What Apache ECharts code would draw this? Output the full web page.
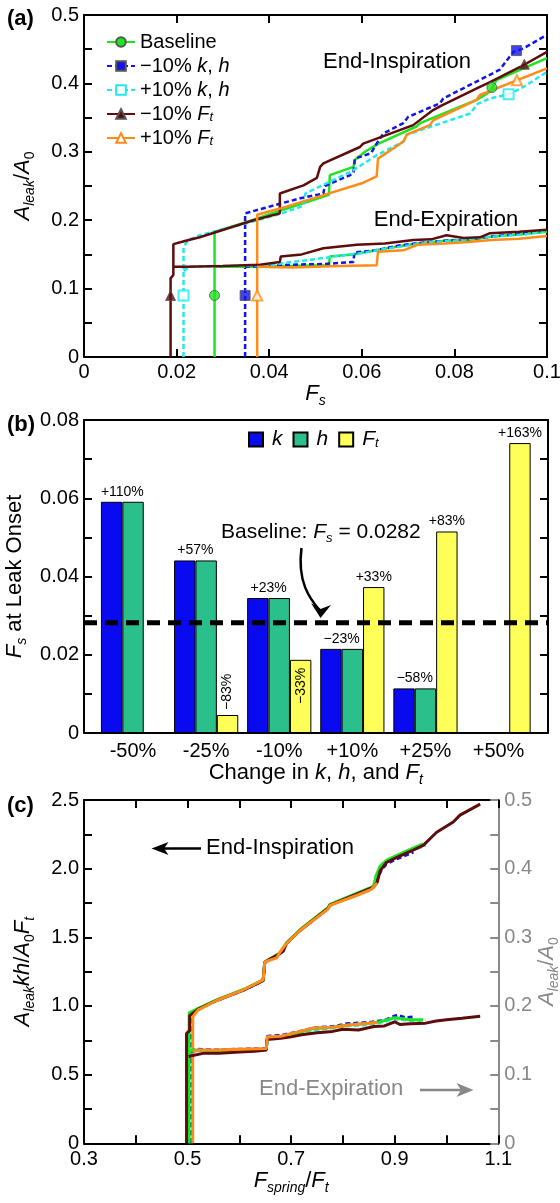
<!DOCTYPE html>
<html>
<head>
<meta charset="utf-8">
<script src="https://cdn.jsdelivr.net/npm/echarts@6/dist/echarts.min.js"></script>
<style>
  html, body { margin: 0; padding: 0; background: #fff; }
  #chart { width: 560px; height: 1203px; }
</style>
</head>
<body>
<div id="chart"></div>
<script>
const FONT = '"Liberation Sans", Arial, Helvetica, sans-serif'

// ---------- panel (a): A_leak/A0 vs Fs ----------
const aBaseInsp = [[0.0282,0],[0.0282,0.183],[0.035,0.197],[0.042,0.213],[0.048,0.226],[0.0529,0.237],[0.0531,0.266],[0.0582,0.278],[0.0585,0.288],[0.0607,0.300],[0.0636,0.312],[0.0718,0.337],[0.0726,0.342],[0.0848,0.376],[0.0877,0.388],[0.0891,0.405],[0.1,0.437]]
const aBaseExp = [[0.0282,0.132],[0.035,0.132],[0.045,0.133],[0.0529,0.134],[0.0531,0.147],[0.058,0.150],[0.063,0.156],[0.068,0.162],[0.072,0.166],[0.078,0.170],[0.083,0.171],[0.088,0.176],[0.094,0.179],[0.1,0.183]]
const aBaseMarks = [[0.0282,0.09],[0.0881,0.394]]

const aKm10Insp = [[0.0348,0],[0.0348,0.21],[0.0423,0.224],[0.0467,0.232],[0.0517,0.239],[0.052,0.25],[0.0575,0.266],[0.0582,0.27],[0.0585,0.29],[0.062,0.298],[0.0632,0.312],[0.0647,0.327],[0.069,0.342],[0.070,0.351],[0.0769,0.371],[0.0776,0.378],[0.0898,0.42],[0.0927,0.446],[0.0949,0.451],[0.1,0.471]]
const aKm10Exp = [[0.0348,0.132],[0.04,0.133],[0.045,0.135],[0.052,0.136],[0.0582,0.139],[0.0584,0.153],[0.063,0.156],[0.068,0.163],[0.073,0.167],[0.078,0.170],[0.083,0.172],[0.088,0.176],[0.094,0.180],[0.1,0.185]]
const aKm10Marks = [[0.0348,0.09],[0.0934,0.448]]

const aKp10Insp = [[0.0215,0],[0.0215,0.161],[0.0225,0.171],[0.025,0.178],[0.0337,0.193],[0.0423,0.209],[0.0474,0.221],[0.0478,0.239],[0.053,0.256],[0.0582,0.273],[0.0632,0.295],[0.069,0.315],[0.0697,0.325],[0.0834,0.356],[0.085,0.37],[0.0877,0.378],[0.0917,0.384],[0.095,0.395],[0.1,0.417]]
const aKp10Exp = [[0.0215,0.126],[0.023,0.132],[0.03,0.133],[0.04,0.134],[0.045,0.139],[0.05,0.143],[0.055,0.148],[0.06,0.152],[0.065,0.158],[0.07,0.163],[0.075,0.168],[0.08,0.170],[0.085,0.174],[0.09,0.177],[0.095,0.179],[0.1,0.184]]
const aKp10Marks = [[0.0215,0.09],[0.0917,0.384]]

const aFm10Insp = [[0.0187,0],[0.0187,0.115],[0.0193,0.12],[0.0193,0.165],[0.022,0.170],[0.025,0.175],[0.0366,0.2],[0.0423,0.21],[0.0423,0.239],[0.0474,0.251],[0.0503,0.262],[0.051,0.278],[0.0517,0.283],[0.0596,0.307],[0.0603,0.312],[0.0711,0.339],[0.0754,0.361],[0.0773,0.368],[0.0855,0.395],[0.0877,0.402],[0.0942,0.424],[0.1,0.446]]
const aFm10Exp = [[0.0193,0.132],[0.022,0.132],[0.03,0.133],[0.038,0.135],[0.0423,0.139],[0.0425,0.147],[0.047,0.150],[0.0517,0.159],[0.0589,0.164],[0.065,0.166],[0.0711,0.171],[0.075,0.172],[0.0783,0.178],[0.082,0.174],[0.0855,0.175],[0.0877,0.181],[0.094,0.183],[0.1,0.186]]
const aFm10Marks = [[0.0187,0.09],[0.0951,0.428]]

const aFp10Insp = [[0.0374,0],[0.0374,0.208],[0.0423,0.217],[0.05,0.233],[0.06,0.254],[0.0632,0.264],[0.0635,0.29],[0.069,0.315],[0.0697,0.325],[0.0747,0.339],[0.0754,0.346],[0.0848,0.376],[0.0855,0.383],[0.1,0.422]]
const aFp10Exp = [[0.0374,0.132],[0.045,0.131],[0.055,0.133],[0.0632,0.134],[0.0635,0.154],[0.069,0.156],[0.072,0.164],[0.078,0.166],[0.083,0.168],[0.088,0.171],[0.094,0.173],[0.1,0.177]]
const aFp10Marks = [[0.0374,0.09],[0.0935,0.4045]]

// ---------- panel (b): Fs at leak onset ----------
const changeCats = ['-50%', '-25%', '-10%', '+10%', '+25%', '+50%']
const kVals  = [0.0591, 0.0441, 0.0345, 0.0215, 0.0114, null]
const hVals  = [0.0591, 0.0441, 0.0345, 0.0215, 0.0114, null]
const ftVals = [null, 0.0046, 0.0187, 0.0373, 0.0515, 0.0741]
const khPct  = ['+110%', '+57%', '+23%', '\u221223%', '\u221258%', '']
const ftPct  = ['', '\u221283%', '\u221233%', '+33%', '+83%', '+163%']
const baselineFs = 0.0282

// ---------- panel (c): normalised ----------
// end-inspiration, left axis (A_leak kh / A0 Ft)
const cBaseInsp = [[0.503,0],[0.503,0.95],[0.52,0.98],[0.556,1.045],[0.608,1.12],[0.646,1.19],[0.649,1.32],[0.678,1.385],[0.691,1.46],[0.717,1.555],[0.771,1.715],[0.775,1.74],[0.859,1.87],[0.864,1.95],[0.872,2.02],[0.884,2.06],[0.9,2.09],[0.93,2.14],[0.955,2.18]]
const cKm10Insp = [[0.506,0],[0.506,0.93],[0.52,0.978],[0.556,1.04],[0.608,1.115],[0.646,1.185],[0.649,1.315],[0.678,1.38],[0.691,1.455],[0.717,1.55],[0.771,1.71],[0.775,1.735],[0.859,1.865],[0.866,1.92],[0.874,1.99],[0.884,2.035],[0.9,2.065],[0.936,2.12]]
const cKp10Insp = [[0.505,0],[0.505,0.93],[0.52,0.98],[0.556,1.042],[0.608,1.118],[0.646,1.188],[0.649,1.318],[0.678,1.383],[0.691,1.458],[0.717,1.552],[0.771,1.712],[0.775,1.738],[0.859,1.868],[0.866,1.93],[0.873,2.0],[0.884,2.05],[0.9,2.08],[0.93,2.13],[0.96,2.17]]
const cFm10Insp = [[0.498,0],[0.498,0.8],[0.504,0.82],[0.504,0.93],[0.52,0.975],[0.556,1.04],[0.608,1.115],[0.646,1.185],[0.649,1.32],[0.678,1.38],[0.685,1.40],[0.691,1.455],[0.717,1.55],[0.771,1.71],[0.775,1.735],[0.859,1.865],[0.866,1.9],[0.872,1.985],[0.884,2.045],[0.9,2.075],[0.93,2.125],[0.955,2.17],[0.981,2.265],[1.013,2.34],[1.026,2.39],[1.065,2.47]]
const cFp10Insp = [[0.51,0],[0.51,0.92],[0.52,0.97],[0.556,1.04],[0.608,1.118],[0.646,1.19],[0.649,1.32],[0.672,1.35],[0.678,1.39],[0.69,1.45],[0.717,1.55],[0.771,1.705],[0.775,1.732],[0.83,1.81],[0.855,1.85],[0.866,1.895]]
// end-expiration, right axis (A_leak / A0)
const cBaseExp = [[0.503,0.133],[0.51,0.136],[0.55,0.135],[0.6,0.136],[0.652,0.137],[0.654,0.155],[0.68,0.155],[0.717,0.162],[0.743,0.167],[0.78,0.169],[0.807,0.172],[0.85,0.175],[0.872,0.177],[0.9,0.183],[0.93,0.18],[0.955,0.18]]
const cKm10Exp = [[0.506,0.133],[0.515,0.137],[0.55,0.136],[0.6,0.137],[0.652,0.138],[0.654,0.156],[0.68,0.157],[0.717,0.163],[0.743,0.168],[0.78,0.170],[0.807,0.174],[0.85,0.176],[0.88,0.179],[0.905,0.187],[0.92,0.183],[0.936,0.184]]
const cKp10Exp = [[0.505,0.132],[0.515,0.135],[0.55,0.134],[0.6,0.135],[0.652,0.136],[0.654,0.153],[0.68,0.154],[0.717,0.161],[0.743,0.165],[0.78,0.168],[0.807,0.171],[0.85,0.173],[0.872,0.176],[0.9,0.181],[0.93,0.179],[0.96,0.178]]
const cFm10Exp = [[0.502,0.126],[0.51,0.128],[0.53,0.131],[0.56,0.131],[0.6,0.133],[0.63,0.134],[0.652,0.136],[0.653,0.151],[0.68,0.153],[0.7,0.155],[0.72,0.158],[0.75,0.161],[0.78,0.163],[0.8,0.166],[0.83,0.165],[0.86,0.17],[0.88,0.171],[0.9,0.177],[0.91,0.173],[0.93,0.174],[0.96,0.175],[0.98,0.178],[1.0,0.18],[1.03,0.182],[1.065,0.185]]
const cFp10Exp = [[0.51,0.133],[0.52,0.136],[0.55,0.136],[0.6,0.137],[0.652,0.138],[0.654,0.155],[0.68,0.156],[0.717,0.163],[0.743,0.168],[0.78,0.169],[0.807,0.172],[0.84,0.174],[0.866,0.176]]

const variants = [
  { name: 'base', label: '{n|Baseline}', color: '#1ee61e', dash: 'solid', symbol: 'circle', filled: true,
    insp: aBaseInsp, exp: aBaseExp, marks: aBaseMarks, cInsp: cBaseInsp, cExp: cBaseExp },
  { name: 'km10', label: '{n|\u221210% }{i|k}{n|, }{i|h}', color: '#1414e6', dash: [5, 3], symbol: 'rect', filled: true,
    insp: aKm10Insp, exp: aKm10Exp, marks: aKm10Marks, cInsp: cKm10Insp, cExp: cKm10Exp },
  { name: 'kp10', label: '{n|+10% }{i|k}{n|, }{i|h}', color: '#1ee8f0', dash: [5, 3], symbol: 'emptyRect', filled: false,
    insp: aKp10Insp, exp: aKp10Exp, marks: aKp10Marks, cInsp: cKp10Insp, cExp: cKp10Exp },
  { name: 'fm10', label: '{n|\u221210% }{i|F}{s|t}', color: '#5e0c0c', dash: 'solid', symbol: 'triangle', filled: true,
    insp: aFm10Insp, exp: aFm10Exp, marks: aFm10Marks, cInsp: cFm10Insp, cExp: cFm10Exp },
  { name: 'fp10', label: '{n|+10% }{i|F}{s|t}', color: '#ff8c1a', dash: 'solid', symbol: 'emptyTriangle', filled: false,
    insp: aFp10Insp, exp: aFp10Exp, marks: aFp10Marks, cInsp: cFp10Insp, cExp: cFp10Exp }
]

function richSet(size, sub, lh, color) {
  return {
    n: { fontSize: size, fontFamily: FONT, lineHeight: lh, color },
    i: { fontSize: size, fontFamily: FONT, fontStyle: 'italic', lineHeight: lh, color },
    s: { fontSize: sub, fontFamily: FONT, fontStyle: 'italic', lineHeight: Math.round(sub * 0.6), verticalAlign: 'bottom', color },
    u: { fontSize: sub, fontFamily: FONT, lineHeight: Math.round(sub * 0.6), verticalAlign: 'bottom', color }
  }
}
const nameRich = richSet(22, 14, 28, '#000')
const grayRich = richSet(22, 14, 28, '#888')

const tick = { show: true, inside: true, length: 8, lineStyle: { color: '#000', width: 2 } }
const line = { show: true, onZero: false, lineStyle: { color: '#000', width: 2 } }
const lab = { fontSize: 20, fontFamily: FONT, color: '#000' }

function mirrorX(grid, min, max, interval, pos) {
  return { gridIndex: grid, type: 'value', position: pos, min, max, interval,
    axisLine: line, axisTick: interval ? tick : { show: false }, axisLabel: { show: false }, splitLine: { show: false } }
}
function mirrorY(grid, min, max, interval) {
  return { gridIndex: grid, type: 'value', position: 'right', min, max, interval,
    axisLine: line, axisTick: tick, axisLabel: { show: false }, splitLine: { show: false } }
}

const series = []
// panel (a)
variants.forEach(v => {
  series.push({
    type: 'line', name: v.name, xAxisIndex: 0, yAxisIndex: 0, data: v.insp,
    symbol: v.symbol, showSymbol: false, symbolSize: 10, z: 3,
    lineStyle: { color: v.color, width: 2.5, type: v.dash },
    itemStyle: v.filled ? { color: v.color, borderColor: '#555', borderWidth: 1 } : { color: v.color }
  })
})
variants.forEach(v => {
  series.push({
    type: 'line', name: v.name + '-exp', xAxisIndex: 0, yAxisIndex: 0, data: v.exp,
    showSymbol: false, z: 3, lineStyle: { color: v.color, width: 2.5, type: v.dash }
  })
  series.push({
    type: 'scatter', name: v.name + '-marks', xAxisIndex: 0, yAxisIndex: 0, data: v.marks,
    symbol: v.symbol, symbolSize: 10, z: 5,
    itemStyle: v.filled ? { color: v.color, borderColor: '#555', borderWidth: 1 }
                        : { color: v.color, borderWidth: 2 }
  })
})

// panel (b)
series.push({
  type: 'bar', name: 'k', xAxisIndex: 4, yAxisIndex: 4, barWidth: 21.4, barGap: '0%',
  itemStyle: { color: '#0a0af0', borderColor: '#000', borderWidth: 1 },
  label: { show: true, position: 'top', distance: 3, offset: [10.7, 0], fontSize: 14, fontFamily: FONT, color: '#000',
    formatter: p => khPct[p.dataIndex] },
  data: kVals
})
series.push({
  type: 'bar', name: 'h', xAxisIndex: 4, yAxisIndex: 4, barWidth: 21.4, barGap: '0%',
  itemStyle: { color: '#2bbf8b', borderColor: '#000', borderWidth: 1 },
  data: hVals
})
series.push({
  type: 'bar', name: 'Ft', xAxisIndex: 4, yAxisIndex: 4, barWidth: 21.4, barGap: '0%',
  itemStyle: { color: '#ffff5a', borderColor: '#000', borderWidth: 1 },
  label: { show: true, position: 'top', distance: 3, fontSize: 14, fontFamily: FONT, color: '#000',
    formatter: p => ftPct[p.dataIndex] },
  data: ftVals.map((v, i) => {
    if (v == null) return v
    if (i === 1) return { value: v, label: { rotate: 90, align: 'left', verticalAlign: 'middle', distance: 5 } }
    if (i === 2) return { value: v, label: { position: 'insideTop', rotate: 90, align: 'right', verticalAlign: 'middle', distance: 8 } }
    return v
  })
})
// baseline Fs, across the whole frame of panel (b)
series.push({
  type: 'line', name: 'baseline', xAxisIndex: 2, yAxisIndex: 2, z: 4,
  data: [[0, baselineFs], [1, baselineFs]], showSymbol: false, silent: true,
  lineStyle: { color: '#000', width: 5, type: [13, 8] }
})

// panel (c)
const cOrder = [2, 1, 0, 3, 4]
cOrder.forEach(k => {
  const v = variants[k]
  series.push({ type: 'line', name: v.name + '-c-insp', xAxisIndex: 5, yAxisIndex: 5, data: v.cInsp,
    showSymbol: false, lineStyle: { color: v.color, width: 3, type: v.dash } })
})
cOrder.forEach(k => {
  const v = variants[k]
  series.push({ type: 'line', name: v.name + '-c-exp', xAxisIndex: 5, yAxisIndex: 6, data: v.cExp,
    showSymbol: false, lineStyle: { color: v.color, width: 3, type: v.dash } })
})

const legendRich = richSet(20, 13, 20, '#000')
const legendLabels = {}
variants.forEach(v => { legendLabels[v.name] = v.label })
const barLegendLabels = { k: '{i|k}', h: '{i|h}', Ft: '{i|F}{s|t}' }
const barLegendRich = richSet(21, 13, 20, '#000')
barLegendRich.i.padding = [0, 0, 0, 4]

const option = {
  animation: false,
  backgroundColor: '#fff',
  textStyle: { fontFamily: FONT },
  grid: [
    { left: 84, top: 15, width: 463, height: 342, outerBoundsMode: 'none' },
    { left: 84, top: 420, width: 464, height: 313, outerBoundsMode: 'none' },
    { left: 96.5, top: 420, width: 438.6, height: 313, outerBoundsMode: 'none' },
    { left: 84, top: 800, width: 414.3, height: 343.3, outerBoundsMode: 'none' }
  ],
  legend: [
    {
      data: variants.map(v => v.name), orient: 'vertical', left: 106, top: 32, padding: 0,
      itemWidth: 28, itemHeight: 12, itemGap: 4,
      formatter: n => legendLabels[n], textStyle: { fontSize: 20, rich: legendRich }
    },
    {
      data: ['k', 'h', 'Ft'], orient: 'horizontal', left: 248, top: 429, padding: 0,
      itemWidth: 14, itemHeight: 14, itemGap: 10, icon: 'rect',
      formatter: n => barLegendLabels[n], textStyle: { fontSize: 21, rich: barLegendRich }
    }
  ],
  xAxis: [
    { gridIndex: 0, type: 'value', min: 0, max: 0.1, interval: 0.02,
      axisLine: line, axisTick: tick, splitLine: { show: false },
      axisLabel: { ...lab, margin: 5, formatter: v => v === 0 ? '0' : String(Math.round(v * 100) / 100) },
      name: '{i|F}{s|s}', nameLocation: 'middle', nameGap: 17, nameTextStyle: { rich: nameRich } },
    mirrorX(0, 0, 0.1, 0.02, 'top'),
    mirrorX(1, 0, 1, null, 'bottom'),
    mirrorX(1, 0, 1, null, 'top'),
    { gridIndex: 2, type: 'category', data: changeCats,
      axisLine: { show: false }, axisTick: { show: false }, splitLine: { show: false },
      axisLabel: { ...lab, margin: 8 },
      name: '{n|Change in }{i|k}{n|, }{i|h}{n|, and }{i|F}{s|t}', nameLocation: 'middle', nameGap: 20,
      nameTextStyle: { rich: nameRich } },
    { gridIndex: 3, type: 'value', min: 0.3, max: 1.1, interval: 0.1,
      axisLine: line, axisTick: tick, splitLine: { show: false },
      axisLabel: { ...lab, margin: 6, formatter: v => Math.round(v * 10) % 2 === 1 ? v.toFixed(1) : '' },
      name: '{i|F}{s|spring}{n|/}{i|F}{s|t}', nameLocation: 'middle', nameGap: 24, nameTextStyle: { rich: nameRich } },
    mirrorX(3, 0.3, 1.1, 0.1, 'top')
  ],
  yAxis: [
    { gridIndex: 0, type: 'value', min: 0, max: 0.5, interval: 0.05,
      axisLine: line, axisTick: tick, splitLine: { show: false },
      axisLabel: { ...lab, margin: 5, formatter: v => { const r = Math.round(v * 100); return r % 10 ? '' : (r ? v.toFixed(1) : '0') } },
      name: '{i|A}{s|leak}{n|/}{i|A}{u|0}', nameLocation: 'middle', nameRotate: 90, nameGap: 47, nameTextStyle: { rich: nameRich } },
    mirrorY(0, 0, 0.5, 0.05),
    { gridIndex: 1, type: 'value', min: 0, max: 0.08, interval: 0.01,
      axisLine: line, axisTick: tick, splitLine: { show: false },
      axisLabel: { ...lab, margin: 5, formatter: v => { const r = Math.round(v * 1000); return r % 20 ? '' : (r ? v.toFixed(2) : '0') } },
      name: '{i|F}{s|s}{n| at Leak Onset}', nameLocation: 'middle', nameRotate: 90, nameGap: 47, nameTextStyle: { rich: nameRich } },
    mirrorY(1, 0, 0.08, 0.01),
    { gridIndex: 2, type: 'value', min: 0, max: 0.08, show: false },
    { gridIndex: 3, type: 'value', min: 0, max: 2.5, interval: 0.25,
      axisLine: line, axisTick: tick, splitLine: { show: false },
      axisLabel: { ...lab, margin: 5, formatter: v => { const r = Math.round(v * 100); return r % 50 ? '' : (r ? v.toFixed(1) : '0') } },
      name: '{i|A}{s|leak}{i|kh}{n|/}{i|A}{u|0}{i|F}{s|t}', nameLocation: 'middle', nameRotate: 90, nameGap: 47, nameTextStyle: { rich: nameRich } },
    { gridIndex: 3, type: 'value', position: 'right', min: 0, max: 0.5, interval: 0.05,
      axisLine: { show: true, lineStyle: { color: '#8a8a8a', width: 2 } },
      axisTick: { show: true, inside: true, length: 8, lineStyle: { color: '#8a8a8a', width: 2 } },
      splitLine: { show: false },
      axisLabel: { ...lab, color: '#888', margin: 6, formatter: v => { const r = Math.round(v * 100); return r % 10 ? '' : (r ? v.toFixed(1) : '0') } },
      name: '{i|A}{s|leak}{n|/}{i|A}{u|0}', nameLocation: 'middle', nameRotate: 90, nameGap: 35, nameMoveOverlap: false,
      nameTextStyle: { rich: grayRich } }
  ],
  graphic: [
    { type: 'text', x: 7, y: 19, style: { text: '(a)', fontSize: 22, fontWeight: 'bold', fontFamily: FONT, fill: '#000', verticalAlign: 'middle' } },
    { type: 'text', x: 7, y: 425, style: { text: '(b)', fontSize: 22, fontWeight: 'bold', fontFamily: FONT, fill: '#000', verticalAlign: 'middle' } },
    { type: 'text', x: 7, y: 806, style: { text: '(c)', fontSize: 22, fontWeight: 'bold', fontFamily: FONT, fill: '#000', verticalAlign: 'middle' } },
    { type: 'text', x: 397, y: 62, style: { text: 'End-Inspiration', fontSize: 22, fontFamily: FONT, fill: '#000', align: 'center', verticalAlign: 'middle' } },
    { type: 'text', x: 446, y: 220, style: { text: 'End-Expiration', fontSize: 22, fontFamily: FONT, fill: '#000', align: 'center', verticalAlign: 'middle' } },
    { type: 'text', x: 221, y: 532, style: { text: '{n|Baseline: }{i|F}{s|s}{n| = 0.0282}', rich: richSet(21, 13, 26, '#000'), verticalAlign: 'middle' } },
    { type: 'bezierCurve', shape: { x1: 301.5, y1: 548, cpx1: 297, cpy1: 582, cpx2: 310, cpy2: 599, x2: 319.5, y2: 610 },
      style: { stroke: '#000', lineWidth: 2.5, fill: null } },
    { type: 'polygon', shape: { points: [[311, 603], [320.5, 618], [331, 605], [320.5, 609]] }, style: { fill: '#000' } },
    { type: 'text', x: 206, y: 848, style: { text: 'End-Inspiration', fontSize: 22, fontFamily: FONT, fill: '#000', verticalAlign: 'middle' } },
    { type: 'line', shape: { x1: 164, y1: 848.5, x2: 201, y2: 848.5 }, style: { stroke: '#000', lineWidth: 2.5 } },
    { type: 'polygon', shape: { points: [[151.5, 848.5], [168.5, 842], [164, 848.5], [168.5, 855]] }, style: { fill: '#000' } },
    { type: 'text', x: 259, y: 1089, style: { text: 'End-Expiration', fontSize: 22, fontFamily: FONT, fill: '#888', verticalAlign: 'middle' } },
    { type: 'line', shape: { x1: 420, y1: 1090, x2: 461, y2: 1090 }, style: { stroke: '#888', lineWidth: 2.5 } },
    { type: 'polygon', shape: { points: [[473.5, 1090], [456.5, 1083], [461, 1090], [456.5, 1097]] }, style: { fill: '#888' } }
  ],
  series
}

const chart = echarts.init(document.getElementById('chart'), null, { renderer: 'canvas' })
chart.setOption(option)
</script>
</body>
</html>
